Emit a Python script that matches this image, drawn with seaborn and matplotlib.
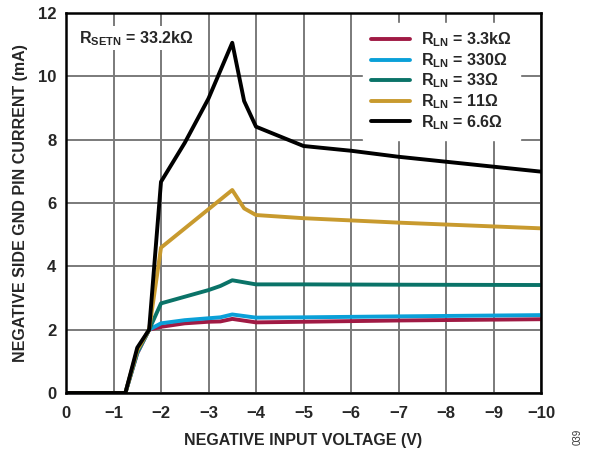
import matplotlib
matplotlib.use("Agg")
import matplotlib.pyplot as plt
import seaborn as sns
import pandas as pd

sns.set_theme(style="white")
plt.rcParams['font.family'] = ['Liberation Sans', 'DejaVu Sans']
plt.rcParams['font.weight'] = 'bold'
plt.rcParams['mathtext.fontset'] = 'custom'
plt.rcParams['mathtext.rm'] = 'Liberation Sans:bold'
plt.rcParams['mathtext.bf'] = 'Liberation Sans:bold'
plt.rcParams['mathtext.default'] = 'bf'

# Data (voltage in V, current in mA)
v_33k = [0, -1.25, -1.5, -1.75, -2, -2.5, -3, -3.25, -3.5, -4, -5, -7, -10]
i_33k = [0, 0, 1.25, 2.0, 2.09, 2.2, 2.25, 2.26, 2.34, 2.23, 2.25, 2.29, 2.33]

v_330 = [0, -1.25, -1.5, -1.75, -2, -2.5, -3, -3.25, -3.5, -4, -5, -7, -10]
i_330 = [0, 0, 1.27, 2.0, 2.2, 2.3, 2.36, 2.39, 2.48, 2.38, 2.39, 2.42, 2.46]

v_33 = [0, -1.25, -1.5, -1.75, -2, -3, -3.25, -3.5, -4, -5, -7, -10]
i_33 = [0, 0, 1.3, 2.0, 2.83, 3.25, 3.38, 3.56, 3.43, 3.43, 3.42, 3.41]

v_11 = [0, -1.25, -1.5, -1.75, -2, -3.5, -3.75, -4, -5, -7, -10]
i_11 = [0, 0, 1.35, 2.0, 4.59, 6.41, 5.83, 5.62, 5.52, 5.38, 5.2]

v_66 = [0, -1.25, -1.5, -1.75, -2, -2.5, -3, -3.5, -3.75, -4, -5, -6, -7, -10]
i_66 = [0, 0, 1.43, 2.0, 6.67, 7.9, 9.3, 11.06, 9.22, 8.41, 7.8, 7.65, 7.46, 6.99]

labels = ["$\\mathregular{R_{LN}}$ = 3.3kΩ", "$\\mathregular{R_{LN}}$ = 330Ω",
          "$\\mathregular{R_{LN}}$ = 33Ω", "$\\mathregular{R_{LN}}$ = 11Ω",
          "$\\mathregular{R_{LN}}$ = 6.6Ω"]
colors = ["#A01A44", "#0AA0D8", "#0A7368", "#C89A2E", "#000000"]

x_ticks = [0, -1, -2, -3, -4, -5, -6, -7, -8, -9, -10]
x_ticklabels = ["0", "−1", "−2", "−3", "−4", "−5", "−6", "−7", "−8", "−9", "−10"]
y_ticks = [0, 2, 4, 6, 8, 10, 12]

frames = []
for lab, v, i in zip(labels, [v_33k, v_330, v_33, v_11, v_66],
                     [i_33k, i_330, i_33, i_11, i_66]):
    frames.append(pd.DataFrame({"V": v, "I": i, "series": lab}))
df = pd.concat(frames, ignore_index=True)

fig = plt.figure(figsize=(5.93, 4.49), dpi=100)
ax = fig.add_axes([66/593, 1-393/449, (541-66)/593, (393-13)/449])

sns.lineplot(data=df, x="V", y="I", hue="series", hue_order=labels,
             palette=colors, sort=False, estimator=None, linewidth=2.8,
             ax=ax, legend=True)

ax.set_xlim(0, -10)
ax.set_ylim(0, 12)
ax.set_xticks(x_ticks)
ax.set_xticklabels(x_ticklabels)
ax.set_yticks(y_ticks)
ax.grid(True, color="#7a7a7a", linewidth=1.4)
ax.set_axisbelow(True)
for s in ax.spines.values():
    s.set_color("black")
    s.set_linewidth(1.8)
ax.tick_params(axis="x", labelsize=12, length=0, pad=9)
ax.tick_params(axis="y", labelsize=12, length=0, pad=7)
for t in ax.get_xticklabels() + ax.get_yticklabels():
    t.set_fontweight("bold")
ax.set_xlabel("NEGATIVE INPUT VOLTAGE (V)", fontsize=11.5, fontweight="bold", labelpad=9)
ax.set_ylabel("NEGATIVE SIDE GND PIN CURRENT (mA)", fontsize=11.5, fontweight="bold", labelpad=7)

leg = ax.legend(loc="upper right", bbox_to_anchor=(0.955, 0.975), frameon=True,
                fontsize=11.5, handlelength=2.45, handletextpad=0.7,
                labelspacing=0.12, borderpad=0.5, borderaxespad=0.0,
                fancybox=False)
leg.get_frame().set_edgecolor("white")
leg.get_frame().set_facecolor("white")
leg.get_frame().set_alpha(1.0)
for t in leg.get_texts():
    t.set_fontweight("bold")
for h in leg.get_lines():
    h.set_linewidth(2.8)

ax.text(0.028, 0.958, "$\\mathregular{R_{SETN}}$ = 33.2kΩ", transform=ax.transAxes,
        fontsize=11.5, fontweight="bold", va="top", ha="left",
        bbox=dict(facecolor="white", edgecolor="none", pad=2))

fig.text(578/593, 1-437/449, "039", rotation=90, fontsize=7, color="#333333",
         ha="center", va="center", fontweight="normal")

fig.savefig("out.png", dpi=100)
